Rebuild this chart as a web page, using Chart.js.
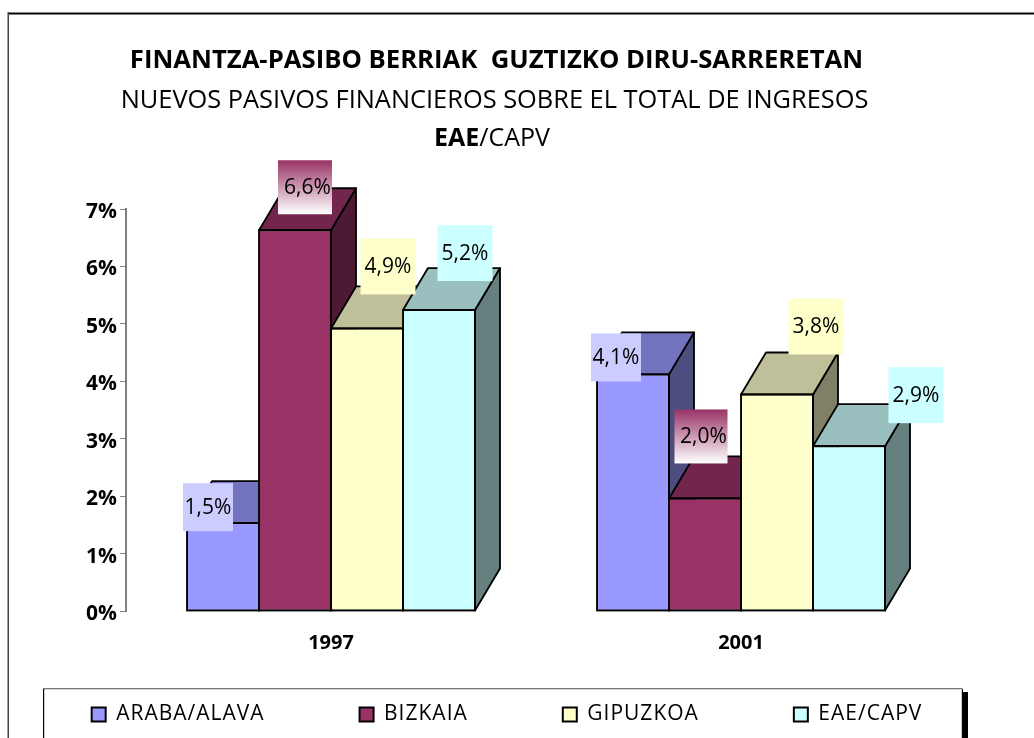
<!DOCTYPE html>
<html>
<head>
<meta charset="utf-8">
<style>html,body{margin:0;padding:0;background:#fff;overflow:hidden}canvas{display:block}</style>
<script src="https://cdn.jsdelivr.net/npm/chart.js@4"></script>
</head>
<body>
<canvas id="c" width="1034" height="738"></canvas>
<script>
const categories = ["1997", "2001"];
const arabaValues = [1.53, 4.12];
const bizkaiaValues = [6.63, 1.96];
const gipuzkoaValues = [4.92, 3.77];
const eaeValues = [5.24, 2.87];
const seriesNames = ["ARABA/ALAVA", "BIZKAIA", "GIPUZKOA", "EAE/CAPV"];
const arabaLabels = ["1,5%", "4,1%"];
const bizkaiaLabels = ["6,6%", "2,0%"];
const gipuzkoaLabels = ["4,9%", "3,8%"];
const eaeLabels = ["5,2%", "2,9%"];
const titleBold = "FINANTZA-PASIBO BERRIAK  GUZTIZKO DIRU-SARRERETAN";
const titlePlain = "NUEVOS PASIVOS FINANCIEROS SOBRE EL TOTAL DE INGRESOS";
const titleThirdBold = "EAE";
const titleThirdPlain = "/CAPV";

const FONT = '"Open Sans", sans-serif';
const fills = ["#9999FF", "#993366", "#FFFFCC", "#CCFFFF"];
const tops = ["#7373BF", "#73264D", "#BFBF99", "#99BFBF"];
const sides = ["#4D4D80", "#4D1A33", "#808066", "#668080"];
const boxFills = ["#CCCCFF", null, "#FFFFCC", "#CCFFFF"];
const allLabels = [arabaLabels, bizkaiaLabels, gipuzkoaLabels, eaeLabels];
const DEPTH_X = 25, DEPTH_Y = 42;
const LEGEND_GAP = 95;
const LEGEND_SPACING = "1px";
// label box placement relative to each bar's top centre: [dx, dy, w, h]
const boxOffsets = [
  [[-15, -16, 50, 48], [-17, -17, 50, 48]],
  [[10, -43, 54, 54], [-4, -62, 53, 54]],
  [[21, -62, 55, 56], [39, -68, 55, 56]],
  [[26, -57, 55, 56], [67, -51, 55, 56]]
];
const labelShiftX = [0, 2.5, 0, 0];

function polygon(ctx, pts, fill) {
  ctx.beginPath();
  pts.forEach((p, i) => i ? ctx.lineTo(p[0], p[1]) : ctx.moveTo(p[0], p[1]));
  ctx.closePath();
  ctx.fillStyle = fill;
  ctx.fill();
  ctx.lineWidth = 1.8;
  ctx.strokeStyle = "#000";
  ctx.lineJoin = "round";
  ctx.stroke();
}

const decor = {
  id: "decor",
  beforeLayout(chart) {
    const l = chart.legend;
    if (!l._flat) {
      const f = l.fit, d = l.draw;
      l.fit = function () {
        this.maxWidth = 2000;
        this.ctx.letterSpacing = LEGEND_SPACING;
        f.call(this);
        this.ctx.letterSpacing = "0px";
        this.height = 0;
      };
      l.draw = function () {
        this.ctx.letterSpacing = LEGEND_SPACING;
        d.call(this);
        this.ctx.letterSpacing = "0px";
      };
      l._flat = true;
    }
  },
  afterLayout(chart) {
    const l = chart.legend;
    l.left = -100; l.right = 1114; l.width = 1214;
    l.top = 704 - LEGEND_GAP; l.bottom = 738;
    l.adjustHitBoxes();
  },
  beforeDraw(chart) {
    const ctx = chart.ctx;
    ctx.save();
    // outer frame
    ctx.fillStyle = "#8c8c8c"; ctx.fillRect(8, 12, 1026, 1);
    ctx.fillStyle = "#000"; ctx.fillRect(8, 13, 1026, 1.5);
    ctx.fillStyle = "#444"; ctx.fillRect(7.5, 12, 1.5, 726);
    // legend frame and shadow
    ctx.fillStyle = "#000"; ctx.fillRect(962, 692, 6, 46); ctx.fillRect(962, 689, 1, 3);
    ctx.fillStyle = "#fff"; ctx.fillRect(44, 689, 918, 49);
    ctx.fillStyle = "#777"; ctx.fillRect(43, 688, 919.5, 1.3);
    ctx.fillStyle = "#000"; ctx.fillRect(43, 689, 1.2, 49);
    ctx.fillStyle = "#ccc"; ctx.fillRect(961, 689, 1, 49);
    // titles
    ctx.fillStyle = "#000";
    ctx.textBaseline = "alphabetic";
    ctx.textAlign = "left";
    ctx.font = "bold 25.7px " + FONT;
    let w = ctx.measureText(titleBold).width;
    ctx.fillText(titleBold, 496.5 - w / 2, 68);
    ctx.font = "25.4px " + FONT;
    w = ctx.measureText(titlePlain).width;
    ctx.fillText(titlePlain, 494.5 - w / 2, 107.5);
    ctx.font = "bold 25px " + FONT;
    const a = ctx.measureText(titleThirdBold).width;
    ctx.font = "25px " + FONT;
    const b = ctx.measureText(titleThirdPlain).width;
    const x0 = 492 - (a + b) / 2;
    ctx.font = "bold 25px " + FONT;
    ctx.fillText(titleThirdBold, x0, 146);
    ctx.font = "25px " + FONT;
    ctx.fillText(titleThirdPlain, x0 + a, 146);
    ctx.restore();
  },
  beforeDatasetsDraw(chart) {
    const ctx = chart.ctx;
    ctx.save();
    chart.data.datasets.forEach((ds, i) => {
      chart.getDatasetMeta(i).data.forEach(bar => {
        const L = bar.x - bar.width / 2, R = bar.x + bar.width / 2, T = bar.y, B = bar.base;
        polygon(ctx, [[R, T], [R + DEPTH_X, T - DEPTH_Y], [R + DEPTH_X, B - DEPTH_Y], [R, B]], sides[i]);
        polygon(ctx, [[L, T], [L + DEPTH_X, T - DEPTH_Y], [R + DEPTH_X, T - DEPTH_Y], [R, T]], tops[i]);
      });
    });
    ctx.restore();
  },
  afterDatasetsDraw(chart) {
    const ctx = chart.ctx;
    ctx.save();
    chart.data.datasets.forEach((ds, i) => {
      chart.getDatasetMeta(i).data.forEach(bar => {
        ctx.lineWidth = 1.8; ctx.strokeStyle = "#000";
        ctx.strokeRect(bar.x - bar.width / 2, bar.y, bar.width, bar.base - bar.y);
      });
    });
    chart.data.datasets.forEach((ds, i) => {
      chart.getDatasetMeta(i).data.forEach((bar, j) => {
        const [dx, dy, w, h] = boxOffsets[i][j];
        const x = bar.x + dx - w / 2, y = bar.y + dy - h / 2;
        if (boxFills[i]) ctx.fillStyle = boxFills[i];
        else {
          const g = ctx.createLinearGradient(0, y, 0, y + h);
          g.addColorStop(0, "#993366"); g.addColorStop(1, "#FFFFFF");
          ctx.fillStyle = g;
        }
        ctx.fillRect(x, y, w, h);
        ctx.fillStyle = "#000";
        ctx.font = "21px " + FONT;
        ctx.textAlign = "center";
        ctx.textBaseline = "middle";
        ctx.fillText(allLabels[i][j], x + w / 2 + labelShiftX[i], y + h / 2 + 1);
      });
    });
    ctx.restore();
  }
};

const valueLists = [arabaValues, bizkaiaValues, gipuzkoaValues, eaeValues];

new Chart(document.getElementById("c"), {
  type: "bar",
  data: {
    labels: categories,
    datasets: seriesNames.map((name, i) => ({
      label: name,
      data: valueLists[i],
      backgroundColor: fills[i],
      borderColor: "#000",
      borderWidth: 1,
      borderSkipped: false,
      categoryPercentage: 0.7024,
      barPercentage: 1
    }))
  },
  plugins: [decor],
  options: {
    responsive: false,
    animation: false,
    layout: { padding: { left: 0, right: 88, top: 209, bottom: 0 } },
    plugins: {
      title: { display: false },
      tooltip: { enabled: false },
      legend: {
        position: "bottom",
        align: "center",
        labels: {
          boxWidth: 14, boxHeight: 14, padding: LEGEND_GAP,
          color: "#000",
          font: { family: FONT, size: 21 },
          generateLabels(chart) {
            const items = Chart.defaults.plugins.legend.labels.generateLabels(chart);
            items.forEach(it => { it.lineWidth = 2; it.strokeStyle = "#000"; });
            return items;
          }
        }
      }
    },
    scales: {
      x: {
        grid: { display: false },
        border: { display: false },
        ticks: { color: "#000", font: { family: FONT, size: 20, weight: "bold" }, padding: 12, maxRotation: 0 },
        afterFit(s) { s.height = 127; }
      },
      y: {
        min: 0, max: 7,
        grid: { drawOnChartArea: false, drawTicks: true, tickLength: 6, color: "#808080", lineWidth: 1 },
        border: { display: true, color: "#808080", width: 2 },
        ticks: { stepSize: 1, color: "#000", font: { family: FONT, size: 21, weight: "bold" }, padding: 3, labelOffset: 3,
          callback: v => v + "%" },
        afterFit(s) { s.width = 126; }
      }
    }
  }
});
</script>
</body>
</html>
